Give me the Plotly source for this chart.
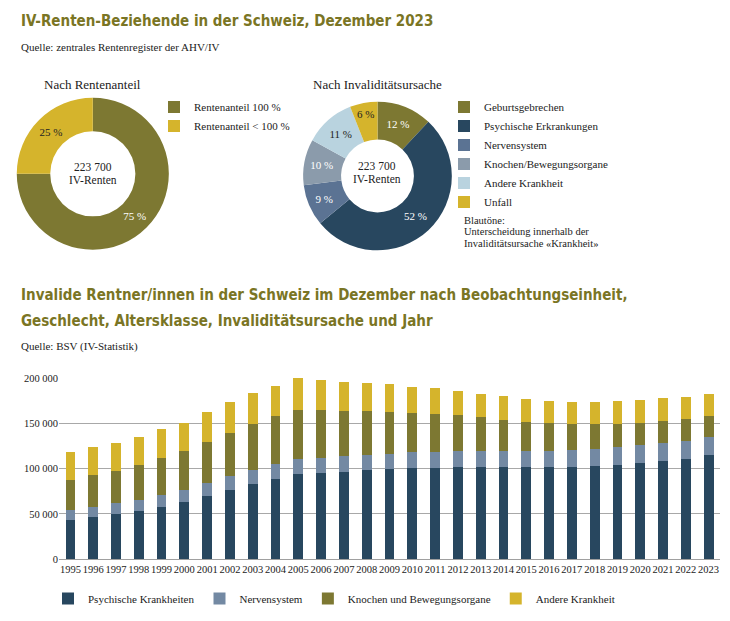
import plotly.graph_objects as go

# ---------------- data ----------------
years = [str(y) for y in range(1995, 2024)]
psychische = [43100, 46300, 49500, 53100, 58000, 63000, 69400, 76200, 83300, 88700,
              93700, 95100, 96900, 98600, 99700, 100400, 101100, 101500, 101500, 101500,
              101500, 101500, 101500, 102600, 104000, 105800, 109000, 111100, 114700]
nervensystem = [11700, 11700, 12800, 12800, 13200, 13900, 14600, 15300, 15300, 16300,
                17400, 17100, 16700, 16800, 16700, 17500, 17800, 18100, 18100, 18100,
                18500, 18500, 18900, 19200, 19600, 19900, 19900, 19900, 20300]
knochen = [32800, 34900, 35600, 37700, 40600, 42400, 45600, 48100, 51000, 52700,
           53800, 52300, 50600, 48800, 46700, 43800, 41700, 39600, 37100, 34600,
           32100, 30600, 29200, 27400, 26300, 25300, 24200, 23900, 23100]
andere = [30600, 31000, 31000, 31000, 31700, 31700, 32800, 33800, 34500, 33900,
          34900, 33100, 32000, 30900, 29900, 28800, 28100, 26700, 26000, 25600,
          24900, 24600, 24200, 24600, 24600, 24600, 25000, 24600, 24900]
bar_names = ["Psychische Krankheiten", "Nervensystem", "Knochen und Bewegungsorgane", "Andere Krankheit"]

anteil_labels = ["Rentenanteil 100 %", "Rentenanteil < 100 %"]
anteil_values = [75, 25]
ursache_labels = ["Geburtsgebrechen", "Psychische Erkrankungen", "Nervensystem",
                  "Knochen/Bewegungsorgane", "Andere Krankheit", "Unfall"]
ursache_values = [12, 52, 9, 10, 11, 6]
total_text = "223 700"

y_tickvals = [0, 50000, 100000, 150000, 200000]
y_ticktext = ["0", "50 000", "100 000", "150 000", "200 000"]

# ---------------- styling ----------------
# page body has an 8px margin: figure is placed at (8, 8) in the 730x621 window
OFF = 8
W, H = 714, 605
def fx(px):
    return (px - OFF) / W
def fy(py):
    return 1 - (py - OFF) / H

OLIVE = "#7d7832"
YELLOW = "#d5b42c"
NAVY = "#28475f"
NERV_PIE = "#5b7393"
KNOCH_PIE = "#8b9bab"
ANDERE_PIE = "#b9d3df"
NERV_BAR = "#7389a3"
TITLE_C = "#7a7524"
SERIF = "Liberation Serif, Times New Roman, serif"
TITLE_FONT = "DejaVu Sans Condensed, DejaVu Sans, sans-serif"
TXT = "#222222"

fig = go.Figure()

# bars
for vals, name, col in zip([psychische, nervensystem, knochen, andere], bar_names,
                           [NAVY, NERV_BAR, OLIVE, YELLOW]):
    fig.add_trace(go.Bar(x=years, y=vals, name=name, marker_color=col,
                         marker_line_width=0, legend="legend3"))

# donut left
fig.add_trace(go.Pie(
    labels=anteil_labels, values=anteil_values, hole=0.56, sort=False,
    direction="clockwise", rotation=0,
    domain=dict(x=[fx(14.3), fx(171.3)], y=[fy(252.5), fy(95.5)]),
    marker=dict(colors=[OLIVE, YELLOW], line=dict(width=0)),
    text=[f"{v} %" for v in anteil_values], textinfo="text", textposition="inside",
    insidetextorientation="horizontal",
    insidetextfont=dict(family=SERIF, size=11, color=["#ffffff", TXT]),
    legend="legend", showlegend=True, hoverinfo="label+percent"))

# donut right
fig.add_trace(go.Pie(
    labels=ursache_labels, values=ursache_values, hole=0.49, sort=False,
    direction="clockwise", rotation=0,
    domain=dict(x=[fx(300.5), fx(454.5)], y=[fy(253), fy(99.5)]),
    marker=dict(colors=[OLIVE, NAVY, NERV_PIE, KNOCH_PIE, ANDERE_PIE, YELLOW], line=dict(width=0)),
    text=[f"{v} %" for v in ursache_values], textinfo="text", textposition="inside",
    insidetextorientation="horizontal",
    insidetextfont=dict(family=SERIF, size=11,
                        color=["#ffffff", "#ffffff", "#ffffff", "#ffffff", TXT, TXT]),
    legend="legend2", showlegend=True, hoverinfo="label+percent"))

annotations = []
def ann(text, x, y, size, color=TXT, family=SERIF, xanchor="left", bold=False):
    annotations.append(dict(text=text, x=fx(x), y=fy(y), xref="paper", yref="paper",
                            xanchor=xanchor, yanchor="middle", showarrow=False,
                            font=dict(family=family, size=size, color=color,
                                      weight="bold" if bold else "normal")))

ann("IV-Renten-Beziehende in der Schweiz, Dezember 2023", 19, 16, 15, TITLE_C, TITLE_FONT, bold=True)
ann("Quelle: zentrales Rentenregister der AHV/IV", 19, 43, 11)
ann("Nach Rentenanteil", 92.5, 82, 13, xanchor="center")
ann("Nach Invaliditätsursache", 377, 82, 13, xanchor="center")
ann(total_text, 92.8, 167, 11.5, xanchor="center")
ann("IV-Renten", 92.8, 180, 11.5, xanchor="center")
ann(total_text, 377.3, 166, 11.5, xanchor="center")
ann("IV-Renten", 377.3, 179, 11.5, xanchor="center")
ann("Blautöne:", 462, 222, 10.5)
ann("Unterscheidung innerhalb der", 462, 234, 10.5)
ann("Invaliditätsursache «Krankheit»", 462, 246, 10.5)
ann("Invalide Rentner/innen in der Schweiz im Dezember nach Beobachtungseinheit,", 19, 299, 15, TITLE_C, TITLE_FONT, bold=True)
ann("Geschlecht, Altersklasse, Invaliditätsursache und Jahr", 19, 326, 15, TITLE_C, TITLE_FONT, bold=True)
ann("Quelle: BSV (IV-Statistik)", 19, 352, 11)

fig.update_layout(
    width=W, height=H, autosize=False,
    margin=dict(l=0, r=0, t=0, b=0),
    paper_bgcolor="white", plot_bgcolor="white",
    barmode="stack", bargap=0.57,
    font=dict(family=SERIF, size=11, color=TXT),
    xaxis=dict(domain=[fx(59), fx(720)], type="category", range=[-0.5, 28.5],
               showgrid=False, ticks="", showline=True, linecolor="#a0a0a0", linewidth=1,
               tickangle=0,
               tickfont=dict(family=SERIF, size=10.5, color=TXT), fixedrange=True),
    yaxis=dict(domain=[fy(572), fy(384.5)], range=[0, 200500],
               tickvals=y_tickvals, ticktext=y_ticktext, showgrid=True,
               gridcolor="#a8a8a8", gridwidth=1, zeroline=False, ticks="",
               tickfont=dict(family=SERIF, size=10.5, color=TXT), fixedrange=True),
    legend=dict(x=fx(154), y=fy(90), xanchor="left", yanchor="top",
                bgcolor="rgba(0,0,0,0)", font=dict(family=SERIF, size=11, color=TXT),
                traceorder="normal"),
    legend2=dict(x=fx(444), y=fy(90), xanchor="left", yanchor="top",
                 bgcolor="rgba(0,0,0,0)", font=dict(family=SERIF, size=11, color=TXT),
                 traceorder="normal"),
    legend3=dict(x=fx(48), y=fy(598), xanchor="left", yanchor="top", orientation="h",
                 bgcolor="rgba(0,0,0,0)", font=dict(family=SERIF, size=11, color=TXT),
                 traceorder="normal"),
    annotations=annotations,
    showlegend=True,
)

fig.write_html("out.html")
